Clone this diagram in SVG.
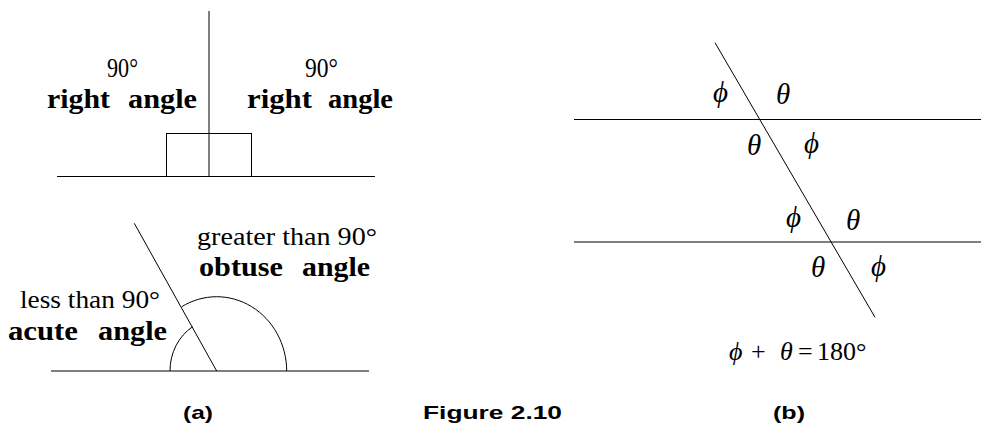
<svg xmlns="http://www.w3.org/2000/svg" width="984" height="430" viewBox="0 0 984 430">
<style>
.ln{stroke:#000;stroke-width:1;fill:none}
.reg{font-family:"Liberation Serif","Times New Roman",serif;font-size:26px;fill:#000}
.bold{font-family:"Liberation Serif","Times New Roman",serif;font-size:27px;font-weight:bold;fill:#000}
.deg{font-family:"Liberation Serif","Times New Roman",serif;font-size:28px;fill:#000}
.gr{font-family:"Liberation Serif","DejaVu Serif",serif;font-size:29px;font-style:italic;fill:#000}
.eq{font-family:"Liberation Serif","DejaVu Serif",serif;font-size:26px;fill:#000}
.cap{font-family:"Liberation Sans",Arial,sans-serif;font-size:19px;font-weight:bold;fill:#000}
</style>
<rect width="984" height="430" fill="#fff"/>
<g id="panel-a-right">
<line class="ln" x1="57" y1="176.5" x2="375" y2="176.5"/>
<line class="ln" x1="209" y1="11" x2="209" y2="176.5"/>
<rect class="ln" x="166.5" y="133.5" width="85" height="43"/>
<text class="deg" x="107" y="77" textLength="31" lengthAdjust="spacingAndGlyphs">90°</text>
<text class="bold" x="47" y="108" textLength="63" lengthAdjust="spacingAndGlyphs">right</text>
<text class="bold" x="128" y="108" textLength="69" lengthAdjust="spacingAndGlyphs">angle</text>
<text class="deg" x="305" y="77" textLength="33" lengthAdjust="spacingAndGlyphs">90°</text>
<text class="bold" x="247" y="108" textLength="65" lengthAdjust="spacingAndGlyphs">right</text>
<text class="bold" x="328" y="108" textLength="65" lengthAdjust="spacingAndGlyphs">angle</text>
</g>
<g id="panel-a-angles">
<line class="ln" x1="51" y1="371" x2="369" y2="371"/>
<line class="ln" x1="134.3" y1="223.3" x2="216.7" y2="371"/>
<path class="ln" d="M170 371 A46.7 51.6 0 0 1 192.7 326.7"/>
<path class="ln" d="M181.7 306.7 A70 74.5 0 0 1 286.7 371"/>
<text class="reg" x="197" y="245" textLength="180" lengthAdjust="spacingAndGlyphs">greater than 90°</text>
<text class="bold" x="199" y="276" textLength="84" lengthAdjust="spacingAndGlyphs">obtuse</text>
<text class="bold" x="302" y="276" textLength="68" lengthAdjust="spacingAndGlyphs">angle</text>
<text class="reg" x="20" y="308" textLength="140" lengthAdjust="spacingAndGlyphs">less than 90°</text>
<text class="bold" x="8" y="340" textLength="70" lengthAdjust="spacingAndGlyphs">acute</text>
<text class="bold" x="98" y="340" textLength="69" lengthAdjust="spacingAndGlyphs">angle</text>
</g>
<g id="panel-b">
<line class="ln" x1="574" y1="119.5" x2="981" y2="119.5"/>
<line class="ln" x1="574" y1="242" x2="981" y2="242"/>
<line class="ln" x1="715" y1="42.7" x2="875" y2="317.3"/>
<text class="gr" x="713" y="102">ϕ</text>
<text class="gr" x="776" y="104">θ</text>
<text class="gr" x="747" y="155">θ</text>
<text class="gr" x="804" y="153">ϕ</text>
<text class="gr" x="786" y="227">ϕ</text>
<text class="gr" x="846" y="230">θ</text>
<text class="gr" x="811" y="277">θ</text>
<text class="gr" x="871" y="276">ϕ</text>
<text class="gr" x="729" y="360" style="font-size:26px">ϕ</text>
<text class="eq" x="751" y="360">+</text>
<text class="gr" x="780" y="360" style="font-size:26px">θ</text>
<text class="eq" x="798" y="360">=</text>
<text class="eq" x="817" y="360">180°</text>
</g>
<g id="captions">
<text class="cap" x="183" y="419" textLength="30" lengthAdjust="spacingAndGlyphs">(a)</text>
<text class="cap" x="423" y="419" textLength="139" lengthAdjust="spacingAndGlyphs">Figure 2.10</text>
<text class="cap" x="773" y="419" textLength="32" lengthAdjust="spacingAndGlyphs">(b)</text>
</g>
</svg>
